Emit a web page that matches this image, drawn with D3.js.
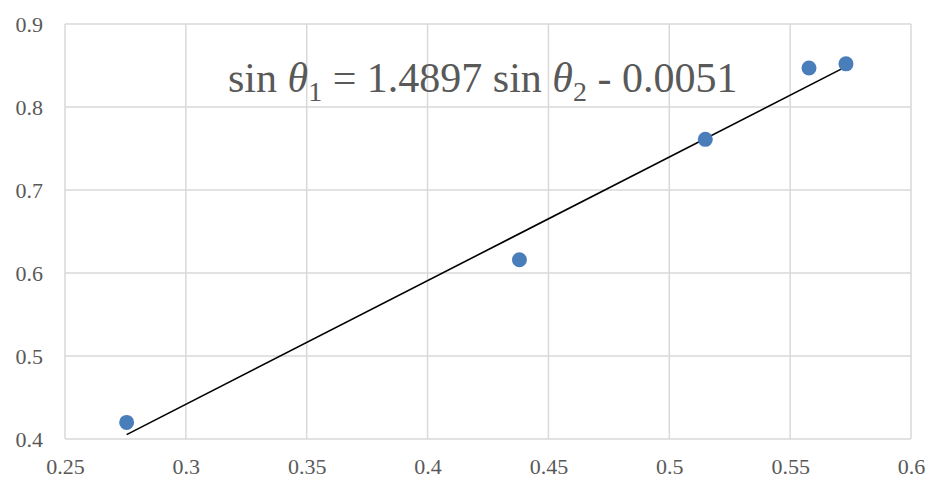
<!DOCTYPE html>
<html><head><meta charset="utf-8">
<script src="https://cdn.jsdelivr.net/npm/d3@7"></script>
<style>body{margin:0;background:#fff}svg{display:block}text{font-family:'Liberation Serif','Times New Roman',serif}</style>
</head><body>
<script>
const xValues = [0.2755, 0.4380, 0.5149, 0.5578, 0.5731];
const yValues = [0.420, 0.616, 0.761, 0.847, 0.852];
const xTicks = [0.25, 0.3, 0.35, 0.4, 0.45, 0.5, 0.55, 0.6];
const yTicks = [0.4, 0.5, 0.6, 0.7, 0.8, 0.9];
const slope = 1.4897, intercept = -0.0051;

const W = 931, H = 479;
const m = {left: 65, right: 20, top: 24, bottom: 40};
const svg = d3.select("body").append("svg").attr("width", W).attr("height", H);
const x = d3.scaleLinear().domain([0.25, 0.6]).range([m.left, W - m.right]);
const y = d3.scaleLinear().domain([0.4, 0.9]).range([H - m.bottom, m.top]);
const font = "'Liberation Serif','Times New Roman',serif";

// grid
svg.append("g").selectAll("line").data(xTicks).join("line")
  .attr("x1", d => x(d)).attr("x2", d => x(d)).attr("y1", y(0.4)).attr("y2", y(0.9))
  .attr("stroke", "#d9d9d9").attr("stroke-width", 1.5);
svg.append("g").selectAll("line").data(yTicks).join("line")
  .attr("x1", x(0.25)).attr("x2", x(0.6)).attr("y1", d => y(d)).attr("y2", d => y(d))
  .attr("stroke", "#d9d9d9").attr("stroke-width", 1.5);

// axes labels
const xa = svg.append("g").attr("transform", `translate(0,${y(0.4)})`)
  .call(d3.axisBottom(x).tickValues(xTicks).tickSize(0).tickPadding(19).tickFormat(d => String(d)));
const ya = svg.append("g").attr("transform", `translate(${x(0.25)},0)`)
  .call(d3.axisLeft(y).tickValues(yTicks).tickSize(0).tickPadding(22).tickFormat(d => String(d)));
[xa, ya].forEach(a => {
  a.attr("font-family", null);
  a.select(".domain").remove();
  a.selectAll("text").style("font-family", font).attr("font-size", 22).attr("fill", "#595959");
});

// trendline
const x0 = d3.min(xValues), x1 = d3.max(xValues);
svg.append("line")
  .attr("x1", x(x0)).attr("y1", y(slope * x0 + intercept))
  .attr("x2", x(x1)).attr("y2", y(slope * x1 + intercept))
  .attr("stroke", "#000").attr("stroke-width", 1.6);

// points
svg.append("g").selectAll("circle").data(xValues).join("circle")
  .attr("cx", d => x(d)).attr("cy", (d, i) => y(yValues[i])).attr("r", 7.5)
  .attr("fill", "#4a7ebb");

// equation
const t = svg.append("text").attr("x", 228).attr("y", 92)
  .style("font-family", font).attr("font-size", 42).attr("fill", "#595959");
t.append("tspan").text("sin ");
t.append("tspan").attr("font-style", "italic").text("θ");
t.append("tspan").attr("font-size", 28).attr("dy", 9).text("1");
t.append("tspan").attr("dy", -9).text(" = 1.4897 sin ");
t.append("tspan").attr("font-style", "italic").text("θ");
t.append("tspan").attr("font-size", 28).attr("dy", 9).text("2");
t.append("tspan").attr("dy", -9).text(" - 0.0051");
</script>
</body></html>
